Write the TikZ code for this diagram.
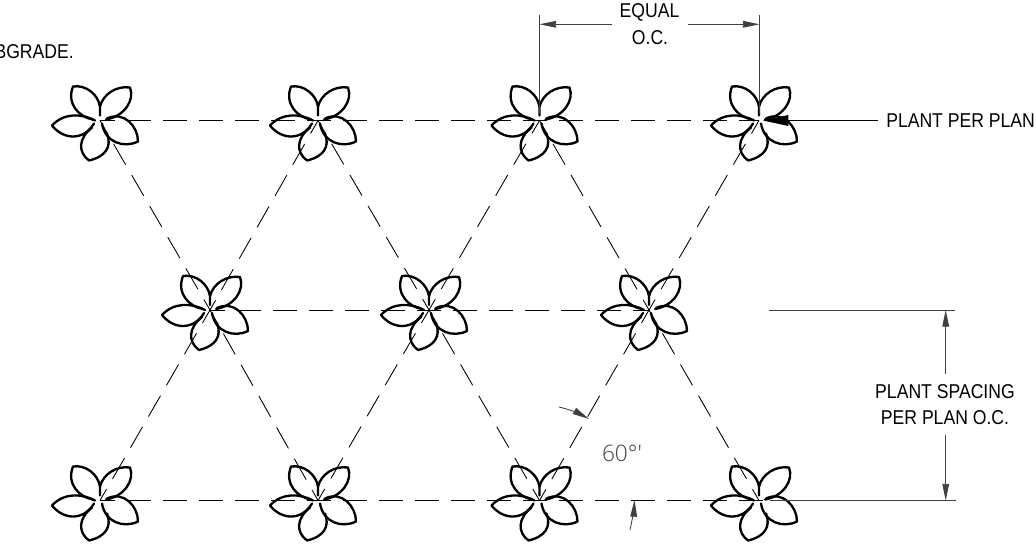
\documentclass[tikz,border=0pt]{standalone}
\usepackage{fontspec}
\setmainfont[FakeStretch=0.88]{Liberation Sans}
\newfontfamily\lightfont{Open Sans Light}
\usetikzlibrary{arrows.meta}
\tikzset{
  x=0.75pt,y=-0.75pt,
  petal/.style={line width=1.75pt,line join=round,line cap=round},
  guide/.style={line width=0.65pt,dash pattern=on 18pt off 9pt,dash phase=6.75pt},
  dimline/.style={line width=0.65pt,black!75},
  tip/.style={-{Triangle[length=12.5pt,width=5pt]}},
  lab/.style={font=\fontsize{15pt}{18pt}\selectfont,inner sep=0pt},
  flower/.pic={
    \draw[petal] (-7,-1) .. controls (-20,-3) and (-34,-16) .. (-27,-34)
       .. controls (-14,-36) and (-2,-26) .. (0,-14) -- (0,-5);
    \draw[petal] (0,-14) .. controls (3,-26) and (16,-35) .. (30,-33)
       .. controls (35,-20) and (24,-4) .. (6,-1);
    \draw[petal] (7,-2) .. controls (24,-10) and (38,6) .. (38,21)
       .. controls (24,28) and (5,22) .. (2,3);
    \draw[petal] (7,13) .. controls (12,26) and (6,36) .. (-11,40)
       .. controls (-22,32) and (-22,18) .. (-8,7);
    \draw[petal] (-5,0) .. controls (-18,-7) and (-36,-8) .. (-48,5)
       .. controls (-36,20) and (-16,20) .. (-6,3);
  }
}
\begin{document}
\begin{tikzpicture}
\useasboundingbox (0,0) rectangle (1036,555);
\coordinate (a1) at (100,120.5);
\coordinate (a2) at (318,120.5);
\coordinate (a3) at (539.5,120.5);
\coordinate (a4) at (759,120.5);
\coordinate (b1) at (210,310);
\coordinate (b2) at (429,310);
\coordinate (b3) at (649,310);
\coordinate (c1) at (100,500.5);
\coordinate (c2) at (318,500.5);
\coordinate (c3) at (539.5,500.5);
\coordinate (c4) at (759,500.5);
\coordinate (c5) at (838,500.5);
\foreach \p in {a1,a2,a3,a4,b1,b2,b3,c1,c2,c3,c4} \pic at (\p) {flower};
\draw[guide] (a1) -- (a4);
\draw[guide] (b1) -- (b3);
\draw[guide] (c1) -- (c5);
\begin{scope}[guide,dash phase=6.75pt]
\draw (a1) -- (b1); \draw (a2) -- (b1); \draw (a2) -- (b2); \draw (a3) -- (b2);
\draw (a3) -- (b3); \draw (a4) -- (b3);
\draw (b1) -- (c1); \draw (b1) -- (c2); \draw (b2) -- (c2); \draw (b2) -- (c3);
\draw (b3) -- (c3); \draw (b3) -- (c4);
\end{scope}
% top dimension
\coordinate (e1) at (539.5,15); \coordinate (e1b) at (539.5,113);
\coordinate (e2) at (759.5,15); \coordinate (e2b) at (759.5,113);
\draw[dimline] (e1) -- (e1b);
\draw[dimline] (e2) -- (e2b);
\node[lab] (equal) at (649.5,12) {EQUAL};
\node[lab] (oc) at (650,38) {O.C.};
\coordinate (d1) at (611.5,24.3); \coordinate (d1t) at (539.5,24.3);
\coordinate (d2) at (688,24.3); \coordinate (d2t) at (759.5,24.3);
\draw[dimline,tip] (d1) -- (d1t);
\draw[dimline,tip] (d2) -- (d2t);
% plant leader
\node[lab,anchor=west] (pp) at (886,120.5) {PLANT PER PLAN};
\coordinate (l1) at (878,120.5); \coordinate (l1t) at (763,120.5);
\draw[line width=0.7pt,-{Triangle[length=19pt,width=8pt]}] (l1) -- (l1t);
% BGRADE
\node[lab,anchor=east] (sg) at (74,52) {BGRADE.};
% right dimension
\coordinate (r1) at (769,310); \coordinate (r1e) at (955,310);
\coordinate (r2) at (770,500.5); \coordinate (r2e) at (955.5,500.5);
\draw[dimline] (r1) -- (r1e);
\draw[dimline] (r2) -- (r2e);
\node[lab] (sp1) at (945,392) {PLANT SPACING};
\node[lab] (sp2) at (945,418) {PER PLAN O.C.};
\coordinate (v1) at (945.7,374); \coordinate (v1t) at (945.7,310);
\coordinate (v2) at (945.7,435); \coordinate (v2t) at (945.7,500.5);
\draw[dimline,tip] (v1) -- (v1t);
\draw[dimline,tip] (v2) -- (v2t);
% angle
\node[inner sep=0pt,font=\lightfont\fontsize{17pt}{20pt}\selectfont,black!75] (ang) at (622,453) {60°'};
\coordinate (q1) at (559,407); \coordinate (q1t) at (589,419);
\coordinate (q2) at (630,530); \coordinate (q2t) at (634.5,500);
\draw[dimline,tip] (q1) .. controls (568,409) and (580,414) .. (q1t);
\draw[dimline,tip] (q2) .. controls (632,520) and (634,510) .. (q2t);
\end{tikzpicture}
\end{document}
